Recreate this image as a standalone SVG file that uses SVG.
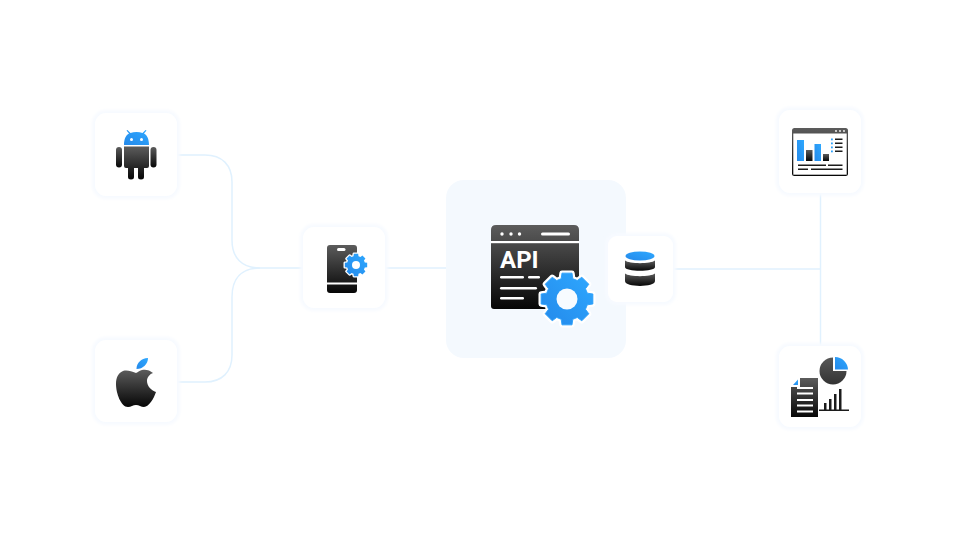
<svg xmlns="http://www.w3.org/2000/svg" width="960" height="540" viewBox="0 0 960 540">
<style>
.halo{fill:#f7faff;filter:url(#soft)}
.card{fill:#fff}
.conn{fill:none;stroke:#e0f1fe;stroke-width:1.5}
.dk{fill:url(#dark)}
.bl{fill:url(#blue)}
.wl{fill:#fff}
.dl{fill:#1c1c1c}
</style>
<defs>
<filter id="soft" x="-10%" y="-10%" width="120%" height="120%"><feGaussianBlur stdDeviation="1.5"/></filter>
<linearGradient id="dark" x1="0" y1="0" x2="0" y2="1"><stop offset="0" stop-color="#5c5c5c"/><stop offset="1" stop-color="#060606"/></linearGradient>
<linearGradient id="pie" x1="0" y1="0" x2="0" y2="1"><stop offset="0" stop-color="#585858"/><stop offset="1" stop-color="#333"/></linearGradient>
<linearGradient id="blue" x1="0" y1="1" x2="1" y2="0"><stop offset="0" stop-color="#2489ea"/><stop offset="1" stop-color="#2ea8ff"/></linearGradient>
<path id="gear" stroke-linejoin="round" d="M-6.600-23.100L-5.700-29.400L5.700-29.400L6.600-23.100L11.700-21L16.800-24.800L24.800-16.800L21-11.700L23.100-6.600L29.400-5.700L29.400 5.700L23.100 6.600L21 11.700L24.800 16.800L16.800 24.800L11.700 21L6.600 23.100L5.700 29.400L-5.700 29.400L-6.600 23.100L-11.700 21L-16.800 24.800L-24.800 16.800L-21 11.700L-23.100 6.600L-29.400 5.700L-29.400-5.700L-23.100-6.600L-21-11.700L-24.800-16.800L-16.800-24.800L-11.700-21Z"/>
</defs>
<rect width="960" height="540" fill="#fff"/>
<g id="connectors">
<path class="conn" d="M177 155H205C222 155 232 165 232 182V240C232 258 242 268 260 268H303"/>
<path class="conn" d="M177 382H205C222 382 232 372 232 355V297C232 278 242 268 260 268"/>
<path class="conn" d="M385 268H446"/>
<path class="conn" d="M673 269H821"/>
<path class="conn" d="M820.500 193V346"/>
</g>
<g id="android">
<rect class="halo" x="92" y="110" width="88" height="89" rx="14"/>
<rect class="card" x="95" y="113" width="82" height="83" rx="11"/>
<path class="bl" d="M124 145C124 139 126 135 129 133.500L126.500 130.500L127.500 130L130.500 133C134 131.500 139 131.500 142.500 133L145.500 130L146.500 130.500L144 133.500C147 135 149 139 149 145Z"/>
<circle class="wl" cx="131.500" cy="139.500" r="1.500"/><circle class="wl" cx="141.500" cy="139.500" r="1.500"/>
<path class="dk" d="M124 146.500H149V166Q149 168 147 168H144V177Q144 179.500 141 179.500T138 177V168H134V177Q134 179.500 131 179.500T128 177V168H126Q124 168 124 166Z"/>
<rect class="dk" x="116" y="147" width="6" height="20.500" rx="3"/>
<rect class="dk" x="150.500" y="147" width="6" height="20.500" rx="3"/>
</g>
<g id="apple">
<rect class="halo" x="92" y="337" width="88" height="88" rx="14"/>
<rect class="card" x="95" y="340" width="82" height="82" rx="11"/>
<path class="bl" d="M136.500 369C136.500 363 141 358.500 148 358C148 364 143 369 136.500 369Z"/>
<path class="dk" d="M136 373C131 371 127 370 123 371C118 373 116 378 116 384C116 393 121 407 128 407C131 407 133 405 136 405C139 405 141 407 144 407C149 407 154 398 156 392C151 390 147 386 147 381C147 377 150 374 153 373C150 370 145 369 142 370C140 370.500 138 372 136 373Z"/>
</g>
<g id="mobile-config">
<rect class="halo" x="300" y="224" width="88" height="87" rx="14"/>
<rect class="card" x="303" y="227" width="82" height="81" rx="11"/>
<path class="dk" d="M330 245H354Q357 245 357 248V290Q357 293 354 293H330Q327 293 327 290V248Q327 245 330 245Z"/>
<rect class="wl" x="327" y="282.500" width="30" height="2"/>
<rect class="wl" x="337" y="248" width="8.500" height="3" rx="1.500"/>
<use href="#gear" transform="translate(356 265) scale(.38)" fill="#fff" stroke="#fff" stroke-width="7"/>
<use href="#gear" transform="translate(356 265) scale(.38)" class="bl"/>
<circle class="wl" cx="356" cy="265" r="4"/>
</g>
<g id="api">
<rect x="446" y="180" width="180" height="178" rx="18" fill="#f4f9fe"/>
<path class="dk" d="M496 225H574Q579 225 579 230V306Q579 309 576 309H494Q491 309 491 306V230Q491 225 496 225Z"/>
<rect x="491" y="241" width="88" height="2.200" fill="#fff"/>
<circle class="wl" cx="502" cy="234" r="1.700"/><circle class="wl" cx="511" cy="234" r="1.700"/><circle class="wl" cx="519.500" cy="234" r="1.700"/>
<rect class="wl" x="541" y="232.500" width="29" height="3" rx="1.500"/>
<text x="500" y="268" font-family="Roboto,'Liberation Sans',sans-serif" font-size="24" font-weight="700" fill="#fff">API</text>
<rect class="wl" x="500" y="276" width="24" height="2.500" rx="1.200"/>
<rect class="wl" x="528" y="276" width="12" height="2.500" rx="1.200"/>
<rect class="wl" x="500" y="287" width="37" height="2.500" rx="1.200"/>
<rect class="wl" x="500" y="297" width="24" height="2.500" rx="1.200"/>
<use href="#gear" transform="translate(567 299) scale(.88)" fill="#fff" stroke="#fff" stroke-width="6"/>
<use href="#gear" transform="translate(567 299) scale(.88)" class="bl" stroke="#2a9ffa" stroke-width="1"/>
<circle cx="567" cy="299" r="10.500" fill="#f7fbff"/>
</g>
<g id="database">
<rect class="halo" x="605" y="233" width="71" height="72" rx="12"/>
<rect class="card" x="608" y="236" width="65" height="66" rx="9"/>
<ellipse class="bl" cx="640" cy="256" rx="14.500" ry="4.500"/>
<path class="dk" d="M625 260.500C629 264 651 264 655 260.500V267C655 272 625 272 625 267Z"/>
<path class="dk" d="M625 273.500C629 277 651 277 655 273.500V281C655 287.500 625 287.500 625 281Z"/>
</g>
<g id="dashboard">
<rect class="halo" x="776" y="107" width="88" height="89" rx="14"/>
<rect class="card" x="779" y="110" width="82" height="83" rx="11"/>
<rect class="dk" x="792" y="128" width="56" height="48" rx="2.500"/>
<rect x="793.300" y="133.500" width="53.400" height="41.200" fill="#fff"/>
<circle class="wl" cx="836" cy="131" r=".9"/><circle class="wl" cx="840" cy="131" r=".9"/><circle class="wl" cx="844" cy="131" r=".9"/>
<rect class="bl" x="797" y="140" width="7" height="21"/>
<rect class="dk" x="806" y="150" width="6.500" height="11"/>
<rect class="bl" x="814.500" y="144" width="6.500" height="17"/>
<rect class="dk" x="823" y="154" width="6" height="7"/>
<rect x="831" y="138.500" width="1.800" height="1.800" fill="#2a9ffa"/><rect x="831" y="142.500" width="1.800" height="1.800" fill="#2a9ffa"/><rect x="831" y="146.500" width="1.800" height="1.800" fill="#2a9ffa"/><rect x="831" y="150.500" width="1.800" height="1.800" fill="#2a9ffa"/>
<rect class="dl" x="835" y="138.500" width="7.500" height="1.500"/><rect class="dl" x="835" y="142.500" width="7.500" height="1.500"/><rect class="dl" x="835" y="146.500" width="7.500" height="1.500"/><rect class="dl" x="835" y="150.500" width="7.500" height="1.500"/>
<rect class="dl" x="798" y="164.500" width="28" height="1.500"/><rect class="dl" x="828" y="164.500" width="14.500" height="1.500"/>
<rect class="dl" x="798" y="168.500" width="10" height="1.500"/><rect class="dl" x="811" y="168.500" width="31.500" height="1.500"/>
</g>
<g id="reports">
<rect class="halo" x="776" y="343" width="88" height="87" rx="14"/>
<rect class="card" x="779" y="346" width="82" height="81" rx="11"/>
<path fill="url(#pie)" d="M833 357.500A13.500 13.500 0 1 0 846.500 371H833Z"/>
<path class="bl" d="M835 357A13 13 0 0 1 848 369.500H835Z"/>
<path class="bl" d="M793 385L798 379.500V385Z"/>
<path class="dk" d="M800 378H818V417H791V387H800Z"/>
<rect class="wl" x="797" y="387" width="16" height="2"/><rect class="wl" x="797" y="392.500" width="16" height="2"/><rect class="wl" x="797" y="399" width="16" height="2"/><rect class="wl" x="797" y="404.500" width="16" height="2"/><rect class="wl" x="797" y="410.500" width="16" height="2"/>
<rect class="dl" x="819" y="409.500" width="30" height="1.500"/>
<rect class="dl" x="824" y="403" width="2.500" height="7"/>
<rect class="dl" x="829" y="399" width="2.500" height="11"/>
<rect class="dl" x="834" y="394" width="2.500" height="16"/>
<rect class="dl" x="839" y="389" width="2.500" height="21"/>
</g>
</svg>
